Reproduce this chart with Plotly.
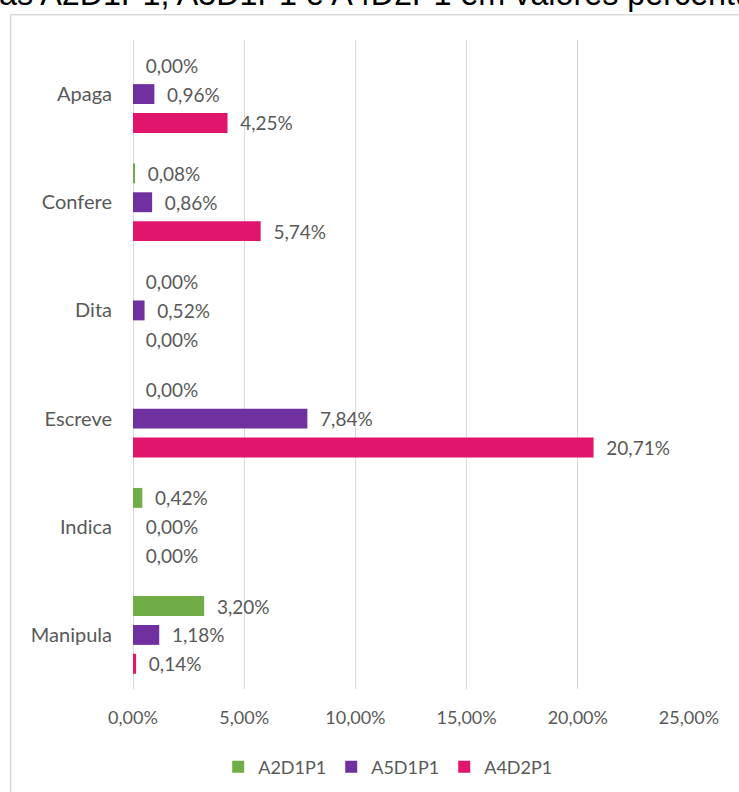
import plotly.graph_objects as go

categories = ["Apaga", "Confere", "Dita", "Escreve", "Indica", "Manipula"]
a2d1p1 = [0.0000, 0.0008, 0.0000, 0.0000, 0.0042, 0.0320]
a5d1p1 = [0.0096, 0.0086, 0.0052, 0.0784, 0.0000, 0.0118]
a4d2p1 = [0.0425, 0.0574, 0.0000, 0.2071, 0.0000, 0.0014]
series_names = ["A2D1P1", "A5D1P1", "A4D2P1"]
series_colors = ["#70AD47", "#7030A0", "#E0156B"]
x_ticks = [0, 0.05, 0.10, 0.15, 0.20, 0.25]

FONT = "Lato"
GRAY = "#595959"

fig = go.Figure()
for name, vals, col in zip(series_names, [a2d1p1, a5d1p1, a4d2p1], series_colors):
    fig.add_trace(go.Bar(
        y=categories, x=vals, name=name, orientation="h",
        marker=dict(color=col, line=dict(width=0)),
        texttemplate="\u00a0\u00a0%{x:.2%}",
        textposition="outside", constraintext="none", cliponaxis=False,
        textfont=dict(family=FONT, size=19, color=GRAY),
        hoverinfo="x+y",
    ))

fig.update_layout(
    width=739, height=792,
    barmode="group", bargap=0.2, bargroupgap=0.31,
    separators=",.",
    plot_bgcolor="white", paper_bgcolor="white",
    margin=dict(l=133, r=49.5, t=40, b=103, autoexpand=False),
    font=dict(family=FONT, color=GRAY),
    xaxis=dict(range=[0, 0.25], tickvals=x_ticks, tickformat=".2%",
               showgrid=True, gridcolor="#D9D9D9", gridwidth=1,
               zeroline=True, zerolinecolor="#D9D9D9", zerolinewidth=1,
               showline=False, ticks="", ticklabelstandoff=16, automargin=False,
               tickfont=dict(family=FONT, size=18, color=GRAY)),
    yaxis=dict(autorange="reversed", showgrid=False, showline=False,
               ticks="", ticklabelstandoff=20, automargin=False,
               tickfont=dict(family=FONT, size=20, color=GRAY)),
    legend=dict(orientation="h", x=0.459, xanchor="center",
                yref="container", y=1 - 767 / 792, yanchor="middle",
                font=dict(family=FONT, size=18, color=GRAY),
                itemwidth=30, traceorder="normal"),
    shapes=[dict(type="rect", xref="paper", yref="paper",
                 x0=-0.220, x1=1.3, y0=-0.3, y1=1.039,
                 line=dict(color="#D9D9D9", width=1.5), fillcolor="rgba(0,0,0,0)",
                 layer="below")],
    annotations=[dict(text="das A2D1P1, A5D1P1 e A4D2P1 em valores percentuais",
                      xref="paper", yref="paper", x=(-21.5 - 133) / 556.5, y=1.040,
                      xanchor="left", yanchor="bottom", showarrow=False,
                      font=dict(family="Liberation Sans", size=32.3, color="black"))],
)

fig.write_html(
    "out.html",
    config={"displayModeBar": False},
    post_script="document.body.style.margin='0';document.body.style.overflow='hidden';",
)
